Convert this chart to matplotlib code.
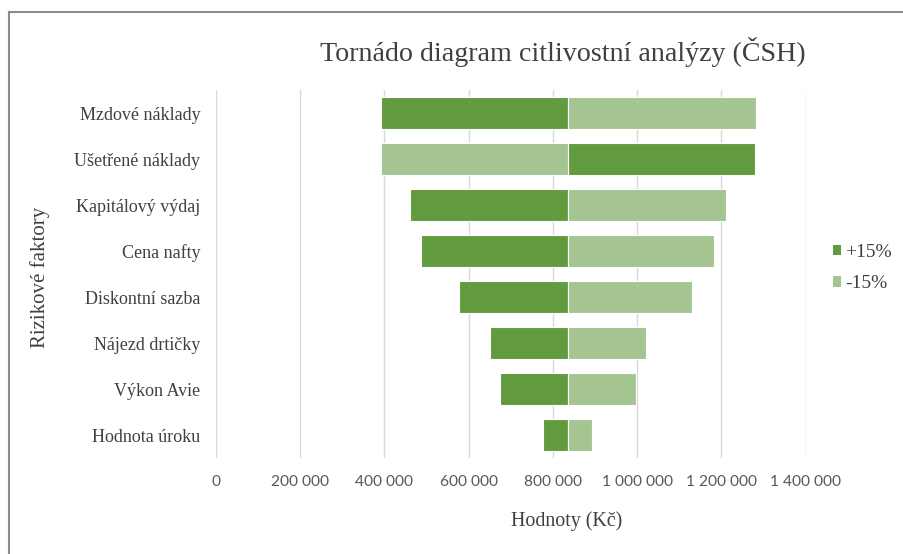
import matplotlib
matplotlib.use("Agg")
import matplotlib.pyplot as plt
from matplotlib.lines import Line2D
from matplotlib.patches import Patch

# Data
factors = ["Mzdové náklady", "Ušetřené náklady", "Kapitálový výdaj", "Cena nafty",
           "Diskontní sazba", "Nájezd drtičky", "Výkon Avie", "Hodnota úroku"]
base_value = 835000
plus15 = [391500, 1279700, 461800, 487100, 577300, 650100, 675400, 777400]
minus15 = [1282800, 391500, 1210200, 1182400, 1129500, 1021800, 998100, 892200]
xticks = [0, 200000, 400000, 600000, 800000, 1000000, 1200000, 1400000]
xtick_labels = ["0", "200 000", "400 000", "600 000", "800 000", "1 000 000", "1 200 000", "1 400 000"]

dark = "#629A3E"
light = "#A4C592"
txt = "#404040"

W, H = 904, 554
fig = plt.figure(figsize=(W / 100, H / 100), dpi=100)
ax = fig.add_axes([215.7 / W, 1 - 458 / H, 590 / W, 368 / H])

ypos = list(range(len(factors)))
ax.barh(ypos, [v - base_value for v in plus15], left=base_value, height=0.68,
        color=dark, edgecolor="white", linewidth=0.8, label="+15%", zorder=3)
ax.barh(ypos, [v - base_value for v in minus15], left=base_value, height=0.68,
        color=light, edgecolor="white", linewidth=0.8, label="-15%", zorder=3)

ax.set_xlim(0, 1400000)
ax.set_ylim(len(factors) - 0.5, -0.5)
ax.set_xticks(xticks)
ax.set_xticklabels(xtick_labels, family="Lato", fontsize=11.2, color="#595959")
ax.set_yticks(ypos)
ax.set_yticklabels(factors, family="Liberation Serif", fontsize=13, color=txt)
ax.tick_params(axis="both", length=0)
ax.tick_params(axis="x", pad=12)
ax.tick_params(axis="y", pad=11)
ax.grid(axis="x", color="#D9D9D9", linewidth=1.0, zorder=0)
for s in ax.spines.values():
    s.set_visible(False)

fig.text(567 / W, 1 - 521 / H, "Hodnoty (Kč)", family="Liberation Serif", fontsize=14.4,
         color=txt, ha="center", va="center")
fig.text(40 / W, 1 - 277 / H, "Rizikové faktory", family="Liberation Serif", fontsize=15,
         color=txt, ha="center", va="center", rotation=90)

fig.text(563 / W, 1 - 52 / H, "Tornádo diagram citlivostní analýzy (ČSH)",
         family="Liberation Serif", fontsize=20.2, color=txt, ha="center", va="center")

handles = [Patch(facecolor=dark, edgecolor="none"), Patch(facecolor=light, edgecolor="none")]
leg = fig.legend(handles, ["+15%", "-15%"], loc="center left",
                 bbox_to_anchor=(819 / W, 1 - 268 / H), frameon=False,
                 prop={"family": "Liberation Serif", "size": 14},
                 handlelength=0.45, handleheight=0.45, handletextpad=0.2, labelspacing=0.75,
                 borderpad=0.2)
for t in leg.get_texts():
    t.set_color(txt)

# chart frame (top and left visible)
fig.add_artist(Line2D([8.5 / W, 8.5 / W], [0, 1 - 11.7 / H], transform=fig.transFigure,
                      color="#8C8C8C", linewidth=1.5))
fig.add_artist(Line2D([8.5 / W, 1], [1 - 11.7 / H, 1 - 11.7 / H], transform=fig.transFigure,
                      color="#8C8C8C", linewidth=1.5))

fig.savefig("out.png", dpi=100)
